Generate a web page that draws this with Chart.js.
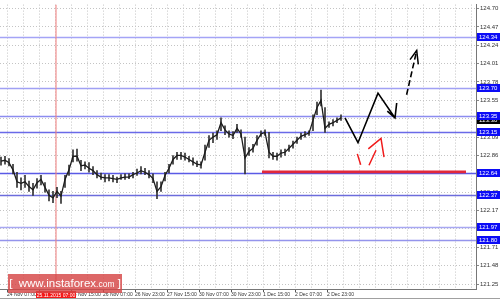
<!DOCTYPE html>
<html><head><meta charset="utf-8">
<script src="https://cdn.jsdelivr.net/npm/chart.js@4.4.0/dist/chart.umd.min.js"></script>
<style>
html,body{margin:0;padding:0;background:#fff;}
#wrap{position:relative;width:500px;height:300px;overflow:hidden;}
canvas{display:block;}
#wm{position:absolute;left:8px;top:274px;width:114px;height:19px;background:rgba(214,70,70,0.82);color:#fff;font-family:"Liberation Sans",Arial,sans-serif;font-size:11.5px;line-height:19px;text-align:center;white-space:nowrap;}
#wm small{font-size:8.5px;}
</style></head><body>
<div id="wrap"><canvas id="c" width="500" height="300"></canvas><div id="wm">[&nbsp; www.instaforex<small>.com</small> ]</div></div>
<script>
// hour offsets from 24 Nov 07:00 (H1 chart, sampled every 2 hours)
const HOURS = [-3,-1,1,3,5,7,9,11,13,15,17,19,21,23,25,27,29,31,33,35,37,39,41,43,45,47,49,51,53,55,57,59,61,63,65,67,69,71,73,75,77,79,81,83,85,87,89,91,93,95,97,99,101,103,105,107,109,111,113,115,117,119,121,123,125,127,129,131,133,135,137,139,141,143,145,147,149,151,153,155,157,159,161,163,165,167];
const CLOSE = [122.79,122.80,122.77,122.68,122.53,122.51,122.53,122.47,122.43,122.52,
122.56,122.46,122.36,122.33,122.41,122.35,122.56,122.68,122.85,122.85,
122.73,122.74,122.70,122.67,122.62,122.59,122.58,122.58,122.57,122.56,
122.58,122.59,122.59,122.62,122.64,122.67,122.65,122.62,122.57,122.41,
122.47,122.61,122.70,122.81,122.86,122.86,122.84,122.81,122.78,122.75,
122.74,122.90,123.05,123.09,123.12,123.27,123.18,123.13,123.11,123.20,
123.13,122.83,122.91,122.95,123.05,123.13,123.15,122.90,122.85,122.85,
122.89,122.90,122.95,123.00,123.05,123.10,123.12,123.14,123.30,123.46,
123.55,123.20,123.25,123.27,123.30,123.33];
const HIGH = [122.84,122.85,122.82,122.75,122.65,122.58,122.61,122.54,122.51,122.57,
122.61,122.52,122.43,122.41,122.46,122.41,122.61,122.74,122.93,122.94,
122.80,122.78,122.77,122.72,122.67,122.64,122.62,122.62,122.61,122.59,
122.62,122.63,122.63,122.65,122.69,122.72,122.70,122.67,122.63,122.53,
122.53,122.65,122.75,122.86,122.90,122.90,122.89,122.85,122.83,122.79,
122.78,122.99,123.11,123.14,123.17,123.33,123.23,123.17,123.16,123.25,
123.18,123.09,122.96,123.00,123.11,123.17,123.18,123.15,122.90,122.89,
122.93,122.94,122.99,123.04,123.09,123.14,123.16,123.17,123.37,123.53,
123.68,123.46,123.28,123.31,123.33,123.37];
const LOW = [122.74,122.75,122.73,122.63,122.46,122.43,122.46,122.41,122.36,122.45,
122.49,122.40,122.29,122.27,122.33,122.26,122.46,122.61,122.78,122.79,
122.67,122.69,122.65,122.62,122.58,122.56,122.53,122.54,122.53,122.52,
122.56,122.56,122.57,122.58,122.61,122.63,122.62,122.58,122.52,122.32,
122.41,122.54,122.64,122.75,122.81,122.81,122.80,122.78,122.74,122.72,
122.70,122.80,122.96,123.02,123.06,123.17,123.12,123.09,123.07,123.15,
123.09,122.63,122.86,122.90,122.99,123.10,123.11,122.83,122.81,122.80,
122.84,122.86,122.91,122.95,123.01,123.06,123.09,123.11,123.17,123.37,
123.48,123.15,123.21,123.23,123.27,123.30];

const Y_TICKS = [124.70,124.47,124.24,124.01,123.78,123.55,123.32,123.09,122.86,122.63,122.40,122.17,121.94,121.71,121.48,121.25];
const Y_MIN = 121.188, Y_MAX = 124.749;
const X_MIN = -3.5, X_MAX = 234.5, GRID_STEP = 8, GRID_LAST = 232;
const X_LABEL_HOURS = [0,16,32,48,64,80,96,112,128,144,160];
const X_LABELS = ['24 Nov 07:00','24 Nov 23:00','25 Nov 15:00','26 Nov 07:00','26 Nov 23:00','27 Nov 15:00','30 Nov 07:00','30 Nov 23:00','1 Dec 15:00','2 Dec 07:00','2 Dec 23:00'];

const LEVELS = [124.34,123.70,123.35,123.15,122.64,122.37,121.97,121.80];
const LEVEL_COLORS = ['#a4a4f6','#a0a0f4','#8c8cf0','#6a6ae8','#5a5ae6','#6c6cdc','#a8a8f2','#9494ec'];
const CURRENT = 123.30;
const SUPPORT = 122.655, SUPPORT_FROM = 127.5, SUPPORT_TO = 229.5;
const MARKER_HOUR = 24.5;
const MARKER_LABEL = '25.11.2015 07:00';

// forecast arrows (hour, price); null price = break
const FC_BLACK_H = [169,175.5,185.5,194,null,190.15,194,194.85];
const FC_BLACK_P = [123.33,123.02,123.64,123.33,null,123.415,123.33,123.517];
const FC_DASH_H = [199.8,204.85];
const FC_DASH_P = [123.62,124.174];
const FC_HEAD_H = [201.5,204.85,205.65];
const FC_HEAD_P = [124.06,124.174,124.00];
const FC_RED_H = [175.15,176.85,null,181,184.5,null,180.65,187,188.5];
const FC_RED_P = [122.88,122.744,null,122.737,122.925,null,122.942,123.073,122.839];

const pts = (hs, ps) => hs.map((h,i)=>({x: h===null ? (hs[i-1]+0.01) : h, y: ps[i]}));
const FONT = '"Liberation Sans", Arial, sans-serif';

const levelPlugin = {
  id: 'levels',
  beforeDatasetsDraw(chart){
    const {ctx, chartArea:a, scales:{y}} = chart;
    ctx.save();
    LEVELS.forEach((v,i)=>{
      const py = Math.round(y.getPixelForValue(v)) + 0.5;
      ctx.strokeStyle = LEVEL_COLORS[i]; ctx.lineWidth = 1.6;
      ctx.beginPath(); ctx.moveTo(a.left, py); ctx.lineTo(a.right, py); ctx.stroke();
    });
    ctx.restore();
  },
  afterDraw(chart){
    const {ctx, chartArea:a, scales:{x,y}} = chart;
    ctx.save();
    ctx.font = '6px ' + FONT; ctx.textBaseline = 'middle'; ctx.textAlign = 'left';
    const box = (v,bg) => {
      const py = Math.round(y.getPixelForValue(v));
      ctx.fillStyle = bg; ctx.fillRect(a.right+1, py-4, 24, 8);
      ctx.fillStyle = '#fff'; ctx.fillText(v.toFixed(2), a.right+3, py+0.5);
    };
    box(CURRENT, '#000');
    LEVELS.forEach(v => box(v, '#0c0cf6'));
    const mx = x.getPixelForValue(MARKER_HOUR);
    ctx.fillStyle = '#f41818'; ctx.fillRect(mx-20, a.bottom+2, 40, 8);
    ctx.fillStyle = '#fff'; ctx.font = '5px ' + FONT; ctx.textAlign = 'center';
    ctx.fillText(MARKER_LABEL, mx, a.bottom+6.5);
    ctx.strokeStyle = '#a0a0a0'; ctx.lineWidth = 1;
    ctx.beginPath(); ctx.moveTo(0, 298.5); ctx.lineTo(500, 298.5); ctx.stroke();
    ctx.restore();
  }
};

new Chart(document.getElementById('c'), {
  type: 'line',
  data: {
    datasets: [
      { type:'line', order: 20, data: [{x:MARKER_HOUR,y:Y_MIN},{x:MARKER_HOUR,y:Y_MAX}], borderColor:'rgba(240,130,130,0.7)', borderWidth:1.5, pointRadius:0 },
      { type:'bar', order: 6, data: HOURS.map((h,i)=>({x:h, y:[LOW[i], HIGH[i]]})), backgroundColor:'#333', barThickness:1, grouped:false },
      { type:'line', order: 5, data: HOURS.map((h,i)=>({x:h, y:CLOSE[i]})), borderColor:'#1c1c1c', borderWidth:1.3, pointRadius:0, tension:0 },
      { type:'line', order: 4, data: [{x:SUPPORT_FROM,y:SUPPORT},{x:SUPPORT_TO,y:SUPPORT}], borderColor:'#e2283a', borderWidth:2.6, pointRadius:0 },
      { type:'line', order: 2, data: pts(FC_BLACK_H, FC_BLACK_P), borderColor:'#000', borderWidth:1.6, pointRadius:0, spanGaps:false },
      { type:'line', order: 2, data: pts(FC_DASH_H, FC_DASH_P), borderColor:'#000', borderWidth:1.6, borderDash:[6,3], pointRadius:0 },
      { type:'line', order: 2, data: pts(FC_HEAD_H, FC_HEAD_P), borderColor:'#000', borderWidth:1.5, pointRadius:0 },
      { type:'line', order: 1, data: pts(FC_RED_H, FC_RED_P), borderColor:'#f01c1c', borderWidth:1.5, pointRadius:0, spanGaps:false }
    ]
  },
  options: {
    responsive:false, animation:false, devicePixelRatio:1,
    layout:{padding:0},
    plugins:{legend:{display:false}, tooltip:{enabled:false}},
    scales:{
      x:{ type:'linear', min:X_MIN, max:X_MAX, offset:false,
        grid:{ offset:false, color:'#c4c4c4', lineWidth:1, tickLength:3,
          tickColor: c => X_LABEL_HOURS.includes(c.tick && c.tick.value) ? '#555' : 'rgba(0,0,0,0)' },
        border:{ display:true, color:'#777', width:1, dash:[1,2] },
        afterBuildTicks: s => { const t=[]; for (let h=0; h<=GRID_LAST; h+=GRID_STEP) t.push({value:h}); s.ticks=t; },
        afterFit: s => { s.height = 11; },
        ticks:{ autoSkip:false, maxRotation:0, align:'start', padding:0, color:'#333', font:{family:FONT, size:5},
          callback: v => { const i = X_LABEL_HOURS.indexOf(v); return i>=0 ? X_LABELS[i] : ''; } }
      },
      y:{ type:'linear', position:'right', min:Y_MIN, max:Y_MAX,
        grid:{ color:'#c4c4c4', lineWidth:1, tickLength:3, tickColor:'#888' },
        border:{ display:true, color:'#777', width:1, dash:[1,2] },
        afterBuildTicks: s => { s.ticks = Y_TICKS.map(v=>({value:v})); },
        afterFit: s => { s.width = 24; },
        ticks:{ autoSkip:false, padding:1, color:'#333', font:{family:FONT, size:6}, callback: v => v.toFixed(2) }
      }
    }
  },
  plugins:[levelPlugin]
});
</script>
</body></html>
